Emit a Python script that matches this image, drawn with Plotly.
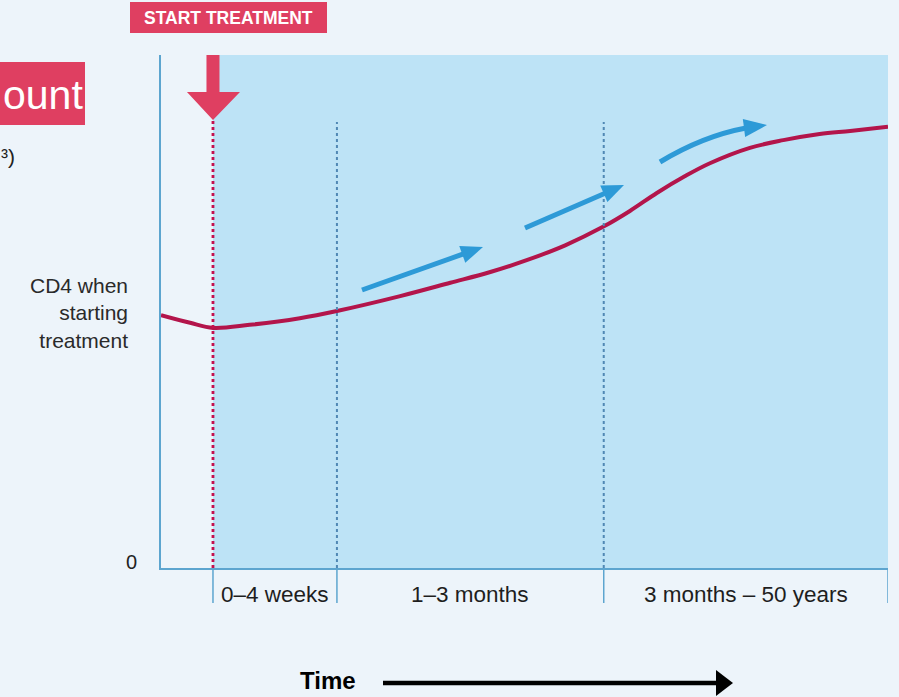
import plotly.graph_objects as go

# CD4 trajectory: time as % of the displayed span, CD4 as % of the axis height
time_pts = [0, 4.0, 7.15, 12.2, 19.1, 24.2, 32.9, 39.8, 45.3, 50.3, 55.6,
            60.8, 64.5, 68.2, 72.1, 75.5, 81.0, 85.6, 90.6, 94.8, 100]
cd4_pts = [49.3, 47.8, 46.8, 47.4, 48.7, 50.1, 53.0, 55.6, 57.7, 60.0, 62.9,
           66.5, 69.6, 73.1, 76.4, 78.9, 81.9, 83.4, 84.6, 85.2, 86.0]

treatment_start = 7.15
phase_bounds = [7.15, 24.2, 60.9, 100]
phase_labels = ["0–4 weeks", "1–3 months", "3 months – 50 years"]
y_label_vals = [1.2, 49.7]
y_label_text = ["0", "CD4 when<br>starting<br>treatment"]

W, H = 899, 697
L, R, T, B = 161, 11, 55, 129
PW, PH = W - L - R, H - T - B

BG = "#EDF4FA"
SHADE = "#BDE3F6"
AXIS = "#5DA5CF"
CURVE = "#B3154B"
RED = "#DF3F61"
BLUE = "#2D9AD7"
FONT = "Liberation Sans, Arial, sans-serif"


def dx(px):
    """Pixel column -> x data value."""
    return (px - L) / PW * 100


def dy(py):
    """Pixel row -> y data value."""
    return (H - B - py) / PH * 100


def px_of_x(x):
    return L + x / 100 * PW


def px_paper(px, py):
    return (px - L) / PW, (H - B - py) / PH


def path_px(points, close=True):
    """SVG path in data coordinates from a list of pixel points."""
    s = "M " + " L ".join(f"{dx(a):.3f},{dy(b):.3f}" for a, b in points)
    return s + (" Z" if close else "")


fig = go.Figure()

fig.add_trace(go.Scatter(
    x=time_pts, y=cd4_pts, mode="lines",
    line=dict(color=CURVE, width=4, shape="spline", smoothing=1.0),
    hoverinfo="skip", showlegend=False,
))

shapes = []
# shaded treatment period
shapes.append(dict(type="rect", xref="x", yref="y", x0=treatment_start, x1=100,
                   y0=0, y1=100, fillcolor=SHADE, line=dict(width=0), layer="below"))

# dotted phase separators
shapes.append(dict(type="line", xref="x", yref="y", x0=treatment_start, x1=treatment_start,
                   y0=0, y1=dy(119), line=dict(color="#C4104F", width=2.8, dash="dot")))
for b in phase_bounds[1:3]:
    shapes.append(dict(type="line", xref="x", yref="y", x0=b, x1=b, y0=0, y1=dy(122),
                       line=dict(color="#5088B4", width=2, dash="dot")))

# phase tick marks beneath the axis
for b in phase_bounds:
    shapes.append(dict(type="line", xref="x", yref="paper", x0=b, x1=b,
                       y0=0, y1=-35 / PH, line=dict(color=AXIS, width=1.5)))

# start-treatment arrow
cx = px_of_x(treatment_start)
shapes.append(dict(type="path", xref="x", yref="y", fillcolor=RED, line=dict(width=0),
                   path=path_px([(cx - 6.5, 54), (cx + 6.5, 54), (cx + 6.5, 92), (cx + 27, 92),
                                 (cx, 120), (cx - 26, 92), (cx - 6.5, 92)])))

# blue "rising" arrows (pixel geometry)
straight_arrows = [((362, 290), (483, 247)), ((525, 228), (624, 185))]
for (x0, y0), (x1, y1) in straight_arrows:
    vx, vy = x1 - x0, y1 - y0
    n = (vx ** 2 + vy ** 2) ** 0.5
    ux, uy = vx / n, vy / n
    bx, by = x1 - 22 * ux, y1 - 22 * uy
    shapes.append(dict(type="line", xref="x", yref="y", x0=dx(x0), y0=dy(y0),
                       x1=dx(bx + 2 * ux), y1=dy(by + 2 * uy),
                       line=dict(color=BLUE, width=5)))
    shapes.append(dict(type="path", xref="x", yref="y", fillcolor=BLUE, line=dict(width=0),
                       path=path_px([(x1, y1), (bx - 9 * uy, by + 9 * ux), (bx + 9 * uy, by - 9 * ux)])))

# curved arrow in the long-term phase
p0, c, p2, tip = (660, 162), (703, 136), (744, 128), (767, 125)
shapes.append(dict(type="path", xref="x", yref="y", line=dict(color=BLUE, width=5),
                   path=f"M {dx(p0[0]):.3f},{dy(p0[1]):.3f} Q {dx(c[0]):.3f},{dy(c[1]):.3f} "
                        f"{dx(p2[0]+2):.3f},{dy(p2[1]):.3f}"))
vx, vy = tip[0] - p2[0], tip[1] - p2[1]
n = (vx ** 2 + vy ** 2) ** 0.5
ux, uy = vx / n, vy / n
shapes.append(dict(type="path", xref="x", yref="y", fillcolor=BLUE, line=dict(width=0),
                   path=path_px([tip, (p2[0] - 9 * uy, p2[1] + 9 * ux), (p2[0] + 9 * uy, p2[1] - 9 * ux)])))

# "Time" arrow below the chart (paper coords)
a0 = px_paper(383, 683)
a1 = px_paper(719, 683)
shapes.append(dict(type="line", xref="paper", yref="paper", x0=a0[0], y0=a0[1],
                   x1=a1[0], y1=a1[1], line=dict(color="black", width=4.5)))
hp = [px_paper(716, 670), px_paper(733, 683), px_paper(716, 696)]
shapes.append(dict(type="path", xref="paper", yref="paper", fillcolor="black", line=dict(width=0),
                   path="M " + " L ".join(f"{a:.4f},{b:.4f}" for a, b in hp) + " Z"))

# title boxes
sb0, sb1 = px_paper(130, 33), px_paper(327, 2)
shapes.append(dict(type="rect", xref="paper", yref="paper", x0=sb0[0], y0=sb0[1],
                   x1=sb1[0], y1=sb1[1], fillcolor=RED, line=dict(width=0)))
cb0, cb1 = px_paper(0, 125), px_paper(85, 62)
shapes.append(dict(type="rect", xref="paper", yref="paper", x0=cb0[0], y0=cb0[1],
                   x1=cb1[0], y1=cb1[1], fillcolor=RED, line=dict(width=0)))

annotations = []
for i, lab in enumerate(phase_labels):
    mid = (phase_bounds[i] + phase_bounds[i + 1]) / 2
    annotations.append(dict(x=mid, y=-26 / PH, xref="x", yref="paper", text=lab,
                            showarrow=False, font=dict(size=22.5, color="#1E1E1E", family=FONT),
                            xanchor="center", yanchor="middle"))

# y-axis labels
annotations.append(dict(x=px_paper(139, 0)[0], y=y_label_vals[0], xref="paper", yref="y",
                        text=y_label_text[0], showarrow=False, xanchor="right", yanchor="middle",
                        font=dict(size=20, color="#222", family=FONT)))
annotations.append(dict(x=px_paper(130, 0)[0], y=y_label_vals[1], xref="paper", yref="y",
                        text=y_label_text[1], showarrow=False, xanchor="right", yanchor="middle",
                        align="right", font=dict(size=21, color="#2A2A2A", family=FONT)))

annotations.append(dict(x=px_paper(328, 0)[0], y=px_paper(0, 680)[1], xref="paper", yref="paper",
                        text="<b>Time</b>", showarrow=False, xanchor="center", yanchor="middle",
                        font=dict(size=24, color="black", family=FONT)))
annotations.append(dict(x=px_paper(228, 0)[0], y=px_paper(0, 18)[1], xref="paper", yref="paper",
                        text="<b>START TREATMENT</b>", showarrow=False, xanchor="center",
                        yanchor="middle", font=dict(size=17.5, color="white", family=FONT)))
annotations.append(dict(x=px_paper(1, 0)[0], y=px_paper(0, 95)[1], xref="paper", yref="paper",
                        text="ount", showarrow=False, xanchor="left", yanchor="middle",
                        font=dict(size=41, color="white", family=FONT)))
annotations.append(dict(x=px_paper(17, 0)[0], y=px_paper(0, 156)[1], xref="paper", yref="paper",
                        text="³)", showarrow=False, xanchor="right", yanchor="middle",
                        font=dict(size=21, color="#222", family=FONT)))

fig.update_layout(
    width=W, height=H,
    margin=dict(l=L, r=R, t=T, b=B, pad=0),
    paper_bgcolor=BG, plot_bgcolor=BG,
    shapes=shapes, annotations=annotations,
    showlegend=False,
    font=dict(family=FONT),
    xaxis=dict(range=[0, 100], showgrid=False, zeroline=False, showticklabels=False,
               showline=True, linecolor=AXIS, linewidth=1.5, ticks="", fixedrange=True),
    yaxis=dict(range=[0, 100], showgrid=False, zeroline=False, showticklabels=False,
               showline=True, linecolor=AXIS, linewidth=1.5, ticks="", fixedrange=True),
)

fig.write_html("out.html")
